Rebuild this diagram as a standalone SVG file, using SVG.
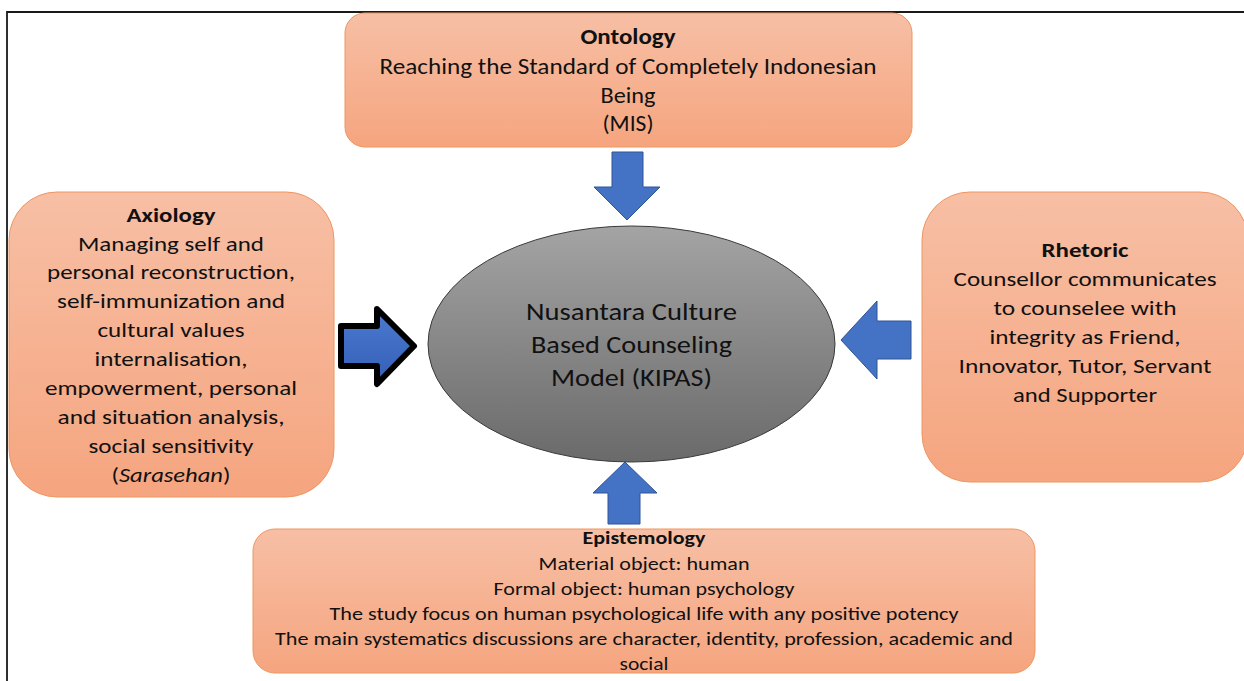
<svg xmlns="http://www.w3.org/2000/svg" width="1244" height="681" viewBox="0 0 1244 681">
<style>
.box{fill:url(#boxGrad);stroke:#EE9660;stroke-width:1}
.t{font-family:Carlito,Lato,"Open Sans",sans-serif;fill:#111;text-anchor:middle}
.b{font-weight:bold}
.top{font-size:23px}
.side{font-size:21px}
.bot{font-size:19px}
.mid{font-size:24px}
.arr{fill:#4472C4;stroke:#2F5597;stroke-width:1}
</style>
<defs>
<linearGradient id="boxGrad" x1="0" y1="0" x2="0" y2="1">
<stop offset="0" stop-color="#F7BFA5"/>
<stop offset="1" stop-color="#F5A57F"/>
</linearGradient>
<linearGradient id="ellGrad" x1="0" y1="0" x2="0" y2="1">
<stop offset="0" stop-color="#A4A4A4"/>
<stop offset="1" stop-color="#6A6A6A"/>
</linearGradient>
<linearGradient id="blueGrad" x1="0" y1="0" x2="0" y2="1">
<stop offset="0" stop-color="#4C7AD0"/>
<stop offset="1" stop-color="#3360B6"/>
</linearGradient>
</defs>
<rect width="1244" height="681" fill="#fff"/>
<path d="M7,681 L7,12 L1244,12" fill="none" stroke="#1a1a1a" stroke-width="1.8"/>

<g id="ontology">
<rect class="box" x="345" y="13" width="567" height="134" rx="20"/>
<text class="t top b" x="628" y="44" textLength="95" lengthAdjust="spacingAndGlyphs">Ontology</text>
<text class="t top" x="628" y="74" textLength="497" lengthAdjust="spacingAndGlyphs">Reaching the Standard of Completely Indonesian</text>
<text class="t top" x="628" y="103" textLength="55" lengthAdjust="spacingAndGlyphs">Being</text>
<text class="t top" x="628" y="131" textLength="51" lengthAdjust="spacingAndGlyphs">(MIS)</text>
</g>

<g id="axiology">
<rect class="box" x="9" y="192" width="325" height="305" rx="48"/>
<text class="t side b" x="171" y="222" textLength="89" lengthAdjust="spacingAndGlyphs">Axiology</text>
<text class="t side" x="171" y="251" textLength="186" lengthAdjust="spacingAndGlyphs">Managing self and</text>
<text class="t side" x="171" y="279" textLength="248" lengthAdjust="spacingAndGlyphs">personal reconstruction,</text>
<text class="t side" x="171" y="308" textLength="228" lengthAdjust="spacingAndGlyphs">self-immunization and</text>
<text class="t side" x="171" y="337" textLength="147" lengthAdjust="spacingAndGlyphs">cultural values</text>
<text class="t side" x="171" y="366" textLength="153" lengthAdjust="spacingAndGlyphs">internalisation,</text>
<text class="t side" x="171" y="395" textLength="252" lengthAdjust="spacingAndGlyphs">empowerment, personal</text>
<text class="t side" x="171" y="424" textLength="227" lengthAdjust="spacingAndGlyphs">and situation analysis,</text>
<text class="t side" x="171" y="453" textLength="165" lengthAdjust="spacingAndGlyphs">social sensitivity</text>
<text class="t side" x="171" y="482" textLength="119" lengthAdjust="spacingAndGlyphs">(<tspan font-style="italic">Sarasehan</tspan>)</text>
</g>

<g id="rhetoric">
<rect class="box" x="922" y="192" width="326" height="290" rx="48"/>
<text class="t side b" x="1085" y="257" textLength="87" lengthAdjust="spacingAndGlyphs">Rhetoric</text>
<text class="t side" x="1085" y="286" textLength="263" lengthAdjust="spacingAndGlyphs">Counsellor communicates</text>
<text class="t side" x="1085" y="315" textLength="183" lengthAdjust="spacingAndGlyphs">to counselee with</text>
<text class="t side" x="1085" y="344" textLength="191" lengthAdjust="spacingAndGlyphs">integrity as Friend,</text>
<text class="t side" x="1085" y="373" textLength="253" lengthAdjust="spacingAndGlyphs">Innovator, Tutor, Servant</text>
<text class="t side" x="1085" y="402" textLength="144" lengthAdjust="spacingAndGlyphs">and Supporter</text>
</g>

<g id="epistemology">
<rect class="box" x="253" y="529" width="782" height="144" rx="22"/>
<text class="t bot b" x="644" y="544" textLength="123" lengthAdjust="spacingAndGlyphs">Epistemology</text>
<text class="t bot" x="644" y="570" textLength="211" lengthAdjust="spacingAndGlyphs">Material object: human</text>
<text class="t bot" x="644" y="595" textLength="301" lengthAdjust="spacingAndGlyphs">Formal object: human psychology</text>
<text class="t bot" x="644" y="620" textLength="629" lengthAdjust="spacingAndGlyphs">The study focus on human psychological life with any positive potency</text>
<text class="t bot" x="644" y="645" textLength="738" lengthAdjust="spacingAndGlyphs">The main systematics discussions are character, identity, profession, academic and</text>
<text class="t bot" x="644" y="670" textLength="49" lengthAdjust="spacingAndGlyphs">social</text>
</g>

<g id="kipas">
<ellipse cx="631.5" cy="344" rx="203.5" ry="118" fill="url(#ellGrad)" stroke="#3A3A3A" stroke-width="1"/>
<text class="t mid" x="631.5" y="320" textLength="211" lengthAdjust="spacingAndGlyphs">Nusantara Culture</text>
<text class="t mid" x="631.5" y="353" textLength="201" lengthAdjust="spacingAndGlyphs">Based Counseling</text>
<text class="t mid" x="631.5" y="386" textLength="161" lengthAdjust="spacingAndGlyphs">Model (KIPAS)</text>
</g>

<g id="connectors">
<path class="arr" d="M612,152 L643,152 L643,187 L660,187 L627,220 L594,187 L612,187 Z"/>
<path d="M341,326 L377,326 L377,309 L414,346 L377,384 L377,366 L341,366 Z" fill="url(#blueGrad)" stroke="#000" stroke-width="6" stroke-linejoin="round"/>
<path class="arr" d="M841,340 L877,301 L877,321 L911,321 L911,359 L877,359 L877,379 Z"/>
<path class="arr" d="M608,524 L640,524 L640,493 L657,493 L625,462 L593,493 L608,493 Z"/>
</g>
</svg>
